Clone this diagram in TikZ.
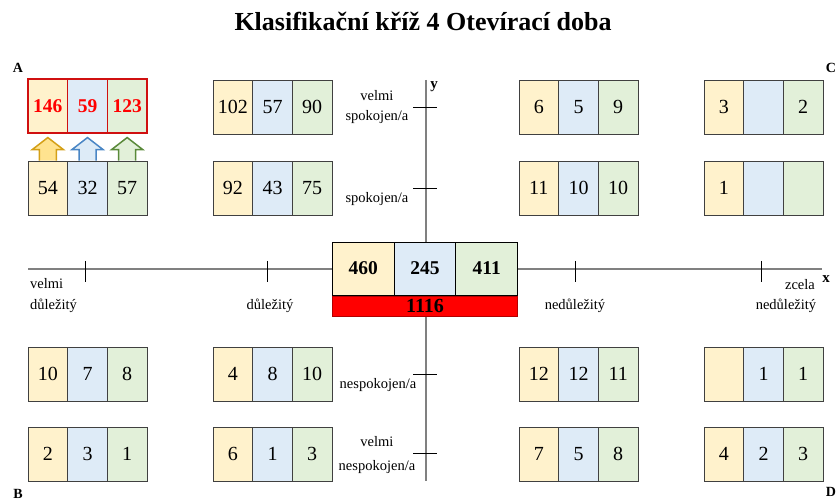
\documentclass[tikz,border=0pt]{standalone}
\usepackage{fontspec}
\setmainfont{Liberation Serif}
\usetikzlibrary{calc}
\definecolor{cY}{HTML}{FFF2CC}
\definecolor{cB}{HTML}{DEEBF7}
\definecolor{cG}{HTML}{E2F0D9}
\definecolor{axisgray}{HTML}{808080}
\definecolor{redbox}{HTML}{D01010}
\definecolor{arY}{HTML}{D4A017}
\definecolor{arYf}{HTML}{FFE38F}
\definecolor{arB}{HTML}{4A86C5}
\definecolor{arBf}{HTML}{DDEBF7}
\definecolor{arG}{HTML}{5A8A3A}
\definecolor{arGf}{HTML}{E2F0D9}
\tikzset{
 cell/.style={draw=black!75, line width=0.9pt, minimum width=39.67pt, minimum height=54pt, inner sep=0pt, font=\fontsize{20}{20}\selectfont},
 redcell/.style={cell, draw=redbox, line width=1.4pt, text=red, font=\fontsize{19.5}{19.5}\selectfont\bfseries},
 ctrcell/.style={draw=black, line width=0.9pt, minimum width=61.67pt, minimum height=53pt, inner sep=0pt, font=\fontsize{19.5}{19.5}\selectfont\bfseries},
 axislbl/.style={font=\fontsize{14.5}{14.5}\selectfont, inner sep=0pt},
 corner/.style={font=\fontsize{14}{14}\selectfont\bfseries, inner sep=0pt},
 axisline/.style={draw=axisgray, line width=1.3pt},
 tickline/.style={draw=black, line width=0.8pt},
}
\newcommand\cellgroup[7][cell]{%
 \node[#1, fill=cY] (#2a) at (#3+19.83,#4+27) {#5};
 \node[#1, fill=cB] (#2b) at (#3+59.5,#4+27) {#6};
 \node[#1, fill=cG] (#2c) at (#3+99.17,#4+27) {#7};
}
\begin{document}
\begin{tikzpicture}[x=1pt,y=-1pt]
\useasboundingbox (0,0) rectangle (839,502);
% title
\node[font=\fontsize{26}{26}\selectfont\bfseries, inner sep=0pt] (title) at (423,21) {Klasifikační kříž 4 Otevírací doba};
% axes
\coordinate (xl) at (28,269); \coordinate (xr) at (822,269);
\coordinate (yt) at (426,80); \coordinate (yb) at (426,481);
\draw[axisline] (xl) -- (xr);
\draw[axisline] (yt) -- (yb);
% ticks
\foreach \tx in {85,267,575,761} \draw[tickline] (\tx,261) -- (\tx,282);
\foreach \ty in {107,188,374,453} \draw[tickline] (413,\ty) -- (437,\ty);
% cell groups
\cellgroup[redcell]{A1}{28}{79}{146}{59}{123}
\cellgroup{A2}{28}{161}{54}{32}{57}
\cellgroup{B1}{213}{80}{102}{57}{90}
\cellgroup{B2}{213}{161}{92}{43}{75}
\cellgroup{C1}{519}{80}{6}{5}{9}
\cellgroup{C2}{519}{161}{11}{10}{10}
\cellgroup{D1}{704}{80}{3}{}{2}
\cellgroup{D2}{704}{161}{1}{}{}
\cellgroup{E1}{28}{347}{10}{7}{8}
\cellgroup{E2}{28}{427}{2}{3}{1}
\cellgroup{F1}{213}{347}{4}{8}{10}
\cellgroup{F2}{213}{427}{6}{1}{3}
\cellgroup{G1}{519}{347}{12}{12}{11}
\cellgroup{G2}{519}{427}{7}{5}{8}
\cellgroup{H1}{704}{347}{}{1}{1}
\cellgroup{H2}{704}{427}{4}{2}{3}
% center
\node[ctrcell, fill=cY] (m1) at (363.33,268.5) {460};
\node[ctrcell, fill=cB] (m2) at (425,268.5) {245};
\node[ctrcell, fill=cG] (m3) at (486.67,268.5) {411};
\node[draw=red!70!black, line width=0.8pt, fill=red, minimum width=185pt, minimum height=20pt, inner sep=0pt, font=\fontsize{20}{20}\selectfont\bfseries] (sum) at (425,306) {1116};
% block arrows
\foreach \n/\c/\f in {a/arY/arYf, b/arB/arBf, c/arG/arGf}{
 \draw[draw=\c, fill=\f, line width=1.5pt]
 ($(A2\n.north)+(-8.5,0)$) -- ++(0,-11) -- ++(-7,0) -- ($(A2\n.north)+(0,-23)$)
 -- ($(A2\n.north)+(15.5,-11)$) -- ++(-7,0) -- ($(A2\n.north)+(8.5,0)$);
}
% axis labels
\node[axislbl, anchor=west] (xl1) at (30,284) {velmi};
\node[axislbl, anchor=west] (xl2) at (30,306) {důležitý};
\node[axislbl] (xl3) at (270,306) {důležitý};
\node[axislbl] (xl4) at (575,306) {nedůležitý};
\node[axislbl] (xl5) at (800,285) {zcela};
\node[axislbl] (xl6) at (786,306) {nedůležitý};
\node[font=\fontsize{15}{15}\selectfont\bfseries, inner sep=0pt] (xlab) at (826,279) {x};
\node[font=\fontsize{15}{15}\selectfont\bfseries, inner sep=0pt] (ylab) at (434,87) {y};
\node[axislbl] (yl1) at (377,96) {velmi};
\node[axislbl] (yl2) at (377,117) {spokojen/a};
\node[axislbl] (yl3) at (377,199) {spokojen/a};
\node[axislbl] (yl4) at (378,385) {nespokojen/a};
\node[axislbl] (yl5) at (377,442) {velmi};
\node[axislbl] (yl6) at (377,467) {nespokojen/a};
% corners
\node[corner] (cA) at (18,68) {A};
\node[corner] (cC) at (831,68) {C};
\node[corner] (cB) at (18,494) {B};
\node[corner] (cD) at (831,492) {D};
\end{tikzpicture}
\end{document}
